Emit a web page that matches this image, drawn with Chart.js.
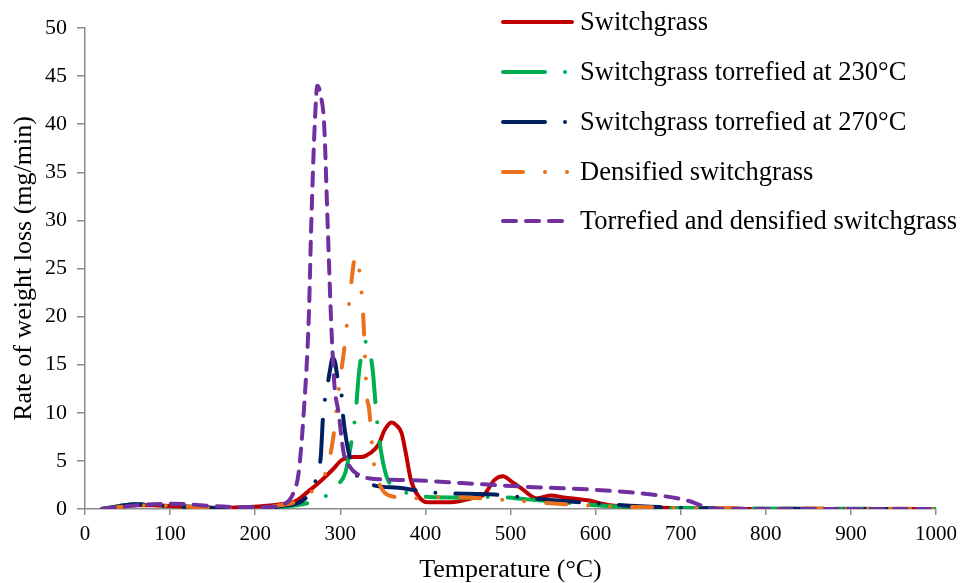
<!DOCTYPE html>
<html>
<head>
<meta charset="utf-8">
<script src="https://cdn.jsdelivr.net/npm/chart.js@4.4.1/dist/chart.umd.min.js"></script>
<style>
  body { margin: 0; background: #fff; }
  #wrap { width: 964px; height: 583px; }
</style>
</head>
<body>
<div id="wrap"><canvas id="myChart" width="964" height="583"></canvas></div>
<script>
// Series data (temperature in °C, rate in mg/min)
const sgTemp = [20,40,60,80,100,130,160,190,210,230,247,262,278,290,302,315,325,335,345,352,360,366,372,377,383,392,403,430,454,469,481,491,502,512,531,547,563,590,617,650,700,800,1000];
const sgRate = [0,0.2,0.4,0.4,0.3,0.2,0.1,0.2,0.3,0.5,0.8,1.8,3.0,4.0,5.1,5.4,5.4,5.8,6.7,8.2,9.0,8.7,7.9,5.8,3.0,1.3,0.7,0.7,1.1,1.5,3.0,3.4,2.8,2.2,1.1,1.4,1.2,0.9,0.4,0.2,0.1,0,0];

const t230Temp = [20,40,60,80,100,130,160,190,210,230,250,265,280,290,298,306,314,318,322,326,330,334,338,343,349,356,364,380,403,440,481,520,559,600,650,700,1000];
const t230Rate = [0,0.3,0.5,0.4,0.3,0.2,0.1,0.1,0.1,0.2,0.4,0.7,1.2,1.8,2.6,3.8,7.5,10,14.2,16.5,17.4,16.5,14.5,9.3,5.4,3,2.3,1.6,1.25,1.2,1.25,1.0,0.7,0.4,0.2,0.1,0];

const t270Temp = [20,40,60,80,100,130,160,190,210,230,250,260,268,272,277,280,284,288,291,294,297,301,303,307,313,321,330,342,368,411,481,512,540,598,675,750,1000];
const t270Rate = [0,0.3,0.5,0.4,0.3,0.2,0.1,0.1,0.1,0.3,0.6,1.2,2.2,3.3,5.4,10,12.3,14.5,15.7,15.2,13.5,12.4,9.9,7.2,4.8,3.3,2.8,2.4,2.2,1.7,1.5,1.25,1.0,0.6,0.2,0.05,0];

const densTemp = [20,40,60,80,100,130,160,190,210,230,250,262,270,276,282,291,299,304,308,312,318,321,324,327,331,334,337,341,347,352,364,380,423,500,582,650,1000];
const densRate = [0,0.2,0.4,0.4,0.35,0.2,0.1,0.1,0.2,0.4,0.8,1.4,2.2,2.8,3.6,7,13,16.2,19.4,22.8,26.3,25.5,23.5,20,12,10.3,7,3.75,2.4,1.7,1.25,1.1,1.25,0.9,0.4,0.2,0];

const tdTemp = [20,40,60,80,100,120,150,180,210,230,240,245,251,257,263,266,270,273,277,281,285,289,293,298,304,312,318,333,383,442,520,598,660,707,727,740,1000];
const tdRate = [0,0.2,0.4,0.5,0.55,0.5,0.3,0.2,0.2,0.4,0.9,1.7,3.75,10,20,30,40,44,43,40,30,20,13,10,5.8,4.3,3.75,3.2,3.0,2.7,2.3,2.0,1.56,0.9,0.3,0,0];

const xTicks = [0,100,200,300,400,500,600,700,800,900,1000];

const seriesNames = [
  'Switchgrass',
  'Switchgrass torrefied at 230°C',
  'Switchgrass torrefied at 270°C',
  'Densified switchgrass',
  'Torrefied and densified switchgrass'
];

function toPoints(xs, ys) {
  return xs.map((x, i) => ({ x: x, y: ys[i] }));
}

Chart.defaults.font.family = 'Liberation Serif, Times New Roman, serif';
Chart.defaults.color = '#000';

const styles = [
  { color: '#C00000', dash: [] },
  { color: '#00B050', dash: [42, 20, 0, 20] },
  { color: '#002060', dash: [42, 20, 0, 20] },
  { color: '#E8711A', dash: [20, 22, 0, 22, 0, 22] },
  { color: '#7030A0', dash: [13, 10] }
];

const allData = [
  toPoints(sgTemp, sgRate),
  toPoints(t230Temp, t230Rate),
  toPoints(t270Temp, t270Rate),
  toPoints(densTemp, densRate),
  toPoints(tdTemp, tdRate)
];

const datasets = allData.map((d, i) => ({
  label: seriesNames[i],
  data: d,
  borderColor: styles[i].color,
  backgroundColor: styles[i].color,
  borderWidth: 4,
  borderDash: styles[i].dash,
  borderCapStyle: 'round',
  borderJoinStyle: 'round',
  pointRadius: 0,
  cubicInterpolationMode: 'monotone',
  order: 4 - i
}));

// legend drawn by hand so the dash patterns show like the original
const lineLegend = {
  id: 'lineLegend',
  afterDatasetsDraw(chart) {
    const ctx = chart.ctx;
    const rows = [22, 72, 122, 172, 221];
    ctx.save();
    rows.forEach((y, i) => {
      ctx.beginPath();
      ctx.strokeStyle = styles[i].color;
      ctx.lineWidth = 4;
      ctx.lineCap = 'round';
      ctx.setLineDash(styles[i].dash);
      ctx.moveTo(503, y);
      ctx.lineTo(572, y);
      ctx.stroke();
      ctx.setLineDash([]);
      ctx.fillStyle = '#000';
      ctx.font = '26.5px Liberation Serif';
      ctx.textBaseline = 'middle';
      ctx.fillText(seriesNames[i], 580, y + 1);
    });
    ctx.restore();
  }
};

const axisGray = '#8c8c8c';

var myChart = new Chart(document.getElementById('myChart'), {
  type: 'line',
  data: { datasets: datasets },
  options: {
    responsive: false,
    animation: false,
    devicePixelRatio: 1,
    layout: { padding: { top: 28, right: 23, left: 0, bottom: 0 } },
    plugins: { legend: { display: false }, tooltip: { enabled: false } },
    scales: {
      x: {
        type: 'linear',
        min: 0,
        max: 1000,
        afterBuildTicks: (scale) => { scale.ticks = xTicks.map(v => ({ value: v })); },
        afterFit: (scale) => { scale.height = 74; },
        border: { color: axisGray, width: 1.5 },
        grid: { drawOnChartArea: false, color: axisGray, tickLength: 6, lineWidth: 1.5 },
        ticks: { font: { size: 21 }, padding: 7, maxRotation: 0, callback: (v) => String(v) },
        title: { display: true, text: 'Temperature (°C)', font: { size: 26, lineHeight: 1 }, padding: 0 }
      },
      y: {
        min: 0,
        max: 50,
        afterFit: (scale) => { scale.width = 85; },
        border: { color: axisGray, width: 1.5 },
        grid: { drawOnChartArea: false, color: axisGray, tickLength: 8, lineWidth: 1.5 },
        ticks: { stepSize: 5, font: { size: 22 }, padding: 10 },
        title: { display: true, text: 'Rate of weight loss (mg/min)', font: { size: 26, lineHeight: 1 }, padding: { top: 11, bottom: 0 } }
      }
    }
  },
  plugins: [lineLegend]
});
</script>
</body>
</html>
